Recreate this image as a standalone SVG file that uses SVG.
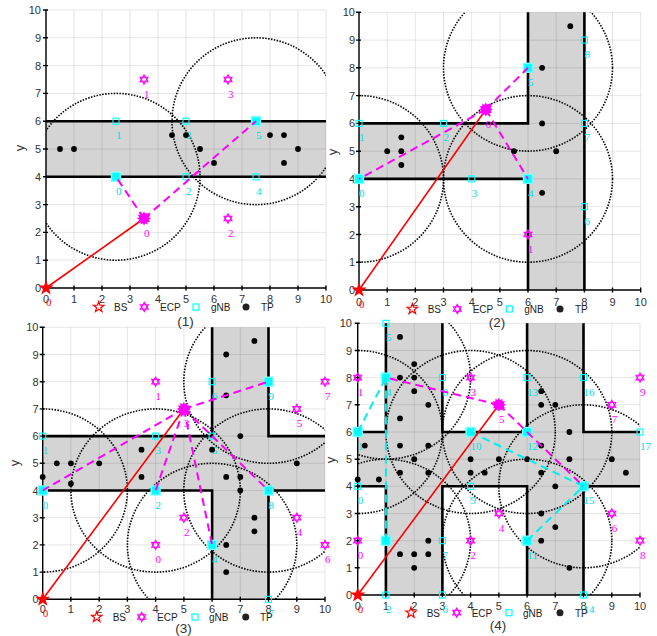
<svg xmlns="http://www.w3.org/2000/svg" width="657" height="636" viewBox="0 0 657 636">
<defs>
<style>
.grid{fill:none;stroke:#000;stroke-opacity:.1;stroke-width:1}
.ax{fill:none;stroke:#000;stroke-width:1.4}
.wall{fill:none;stroke:#000;stroke-width:2.6;stroke-linejoin:miter}
.fl{fill:#d4d4d4}
.cov{fill:none;stroke:#000;stroke-width:1.6;stroke-dasharray:1.5 1.4}
.red{stroke:#f00;stroke-width:1.6;fill:none}
.mag{stroke:#f0f;stroke-width:2;stroke-dasharray:8 5;fill:none}
.cy{stroke:#0ee;stroke-width:2;stroke-dasharray:8 5;fill:none}
.tk{font-family:"Liberation Sans",Arial,sans-serif;font-size:11px;fill:#333}
.tx{text-anchor:middle}
.ty{text-anchor:end}
.lg{font-family:"Liberation Sans",Arial,sans-serif;font-size:10px;fill:#222}
.lc,.lm,.lr{font-family:"Liberation Serif","Times New Roman",serif;font-size:11px}
.lc{fill:#00e0e0}.lm{fill:#f0f}.lr{fill:#f00}
.ttl{font-family:"Liberation Sans",Arial,sans-serif;font-size:13.5px;fill:#333;text-anchor:middle}
.yl{font-family:"Liberation Sans",Arial,sans-serif;font-size:13px;fill:#333;text-anchor:middle}
.tp{fill:#000}
</style>
<circle id="tp" r="2.9" class="tp"/>
<rect id="gs" x="-3" y="-3" width="6" height="6" fill="none" stroke="#0ff" stroke-width="1.1"/>
<rect id="gl" x="-4.5" y="-4.5" width="9" height="9" fill="#0ff" stroke="#7ff" stroke-width="1.4"/>
<g id="eh" fill="none" stroke="#f0f" stroke-width="1.1"><polygon points="0,-4.6 4,2.3 -4,2.3"/><polygon points="0,4.6 4,-2.3 -4,-2.3"/></g>
<polygon id="hs" points="0,-7 2,-3.46 6.06,-3.5 4,0 6.06,3.5 2,3.46 0,7 -2,3.46 -6.06,3.5 -4,0 -6.06,-3.5 -2,-3.46" fill="#f0f"/>
<g id="ef"><use href="#hs"/><use href="#hs" transform="rotate(30)"/></g>
<polygon id="bs" points="0,-8 1.88,-2.59 7.61,-2.47 3.04,0.99 4.7,6.47 0,3.2 -4.7,6.47 -3.04,0.99 -7.61,-2.47 -1.88,-2.59" fill="#f00"/>
<polygon id="bsl" points="0,-5.5 1.29,-1.78 5.23,-1.7 2.09,0.68 3.23,4.45 0,2.2 -3.23,4.45 -2.09,0.68 -5.23,-1.7 -1.29,-1.78" fill="none" stroke="#f00" stroke-width="1.2"/>
<rect id="gsl" x="-3" y="-3" width="6" height="6" fill="none" stroke="#0ff" stroke-width="1.2"/>
<clipPath id="cp1"><rect x="46" y="10" width="280" height="278"/></clipPath>
<clipPath id="cp2"><rect x="359" y="12.3" width="281.7" height="277.7"/></clipPath>
<clipPath id="cp3"><rect x="42.7" y="327.3" width="282.3" height="272"/></clipPath>
<clipPath id="cp4"><rect x="357.7" y="323.3" width="282.3" height="271.7"/></clipPath>
</defs>
<rect width="657" height="636" fill="#fff"/>

<!-- ================= Plot 1 ================= -->
<g id="plot1">
<rect class="fl" x="46" y="121.2" width="280" height="55.6"/>
<path class="grid" d="M46 10V288M74 10V288M102 10V288M130 10V288M158 10V288M186 10V288M214 10V288M242 10V288M270 10V288M298 10V288M326 10V288M46 260.2H326M46 232.4H326M46 204.6H326M46 176.8H326M46 149H326M46 121.2H326M46 93.4H326M46 65.6H326M46 37.8H326M46 10H326"/>
<path class="ax" d="M46 10V288H326M46 288V285M74 290.5V285.5M102 290.5V285.5M130 290.5V285.5M158 290.5V285.5M186 290.5V285.5M214 290.5V285.5M242 290.5V285.5M270 290.5V285.5M298 290.5V285.5M326 290.5V285.5M43 260.2H48M43 232.4H48M43 204.6H48M43 176.8H48M43 149H48M43 121.2H48M43 93.4H48M43 65.6H48M43 37.8H48M43 10H48"/>
<g class="tk tx"><text x="46" y="303">0</text><text x="74" y="303">1</text><text x="102" y="303">2</text><text x="130" y="303">3</text><text x="158" y="303">4</text><text x="186" y="303">5</text><text x="214" y="303">6</text><text x="242" y="303">7</text><text x="270" y="303">8</text><text x="298" y="303">9</text><text x="326" y="303">10</text></g>
<g class="tk ty"><text x="41" y="292">0</text><text x="41" y="264.2">1</text><text x="41" y="236.4">2</text><text x="41" y="208.6">3</text><text x="41" y="180.8">4</text><text x="41" y="153">5</text><text x="41" y="125.2">6</text><text x="41" y="97.4">7</text><text x="41" y="69.6">8</text><text x="41" y="41.8">9</text><text x="41" y="14">10</text></g>
<text class="yl" transform="translate(20,148) rotate(-90)" y="4">y</text>
<g id="p1-walls" class="wall"><path d="M46 121.2H326M46 176.8H326"/></g>
<g id="p1-coverage" class="cov" clip-path="url(#cp1)"><ellipse cx="116" cy="176.8" rx="84" ry="83.4"/><ellipse cx="256" cy="121.2" rx="84" ry="83.4"/></g>
<g id="p1-tps"><use href="#tp" x="60" y="149"/><use href="#tp" x="74" y="149"/><use href="#tp" x="172" y="135.1"/><use href="#tp" x="200" y="149"/><use href="#tp" x="214" y="162.9"/><use href="#tp" x="270" y="135.1"/><use href="#tp" x="284" y="135.1"/><use href="#tp" x="298" y="149"/><use href="#tp" x="284" y="162.9"/></g>
<g id="p1-gnb0"><use href="#gl" x="116" y="176.8"/><text class="lc" x="116" y="194.8">0</text></g>
<g id="p1-gnb1"><use href="#gs" x="116" y="121.2"/><text class="lc" x="116" y="139.2">1</text></g>
<g id="p1-gnb2"><use href="#gs" x="186" y="176.8"/><text class="lc" x="186" y="194.8">2</text></g>
<g id="p1-gnb3"><use href="#gs" x="186" y="121.2"/><text class="lc" x="186" y="139.2">3</text></g>
<g id="p1-gnb4"><use href="#gs" x="256" y="176.8"/><text class="lc" x="256" y="194.8">4</text></g>
<g id="p1-gnb5"><use href="#gl" x="256" y="121.2"/><text class="lc" x="256" y="139.2">5</text></g>
<use href="#tp" x="186" y="135.1"/>
<g id="p1-ecp1"><use href="#eh" x="144" y="79.5"/><text class="lm" x="144" y="97.5">1</text></g>
<g id="p1-ecp2"><use href="#eh" x="228" y="218.5"/><text class="lm" x="228" y="236.5">2</text></g>
<g id="p1-ecp3"><use href="#eh" x="228" y="79.5"/><text class="lm" x="228" y="97.5">3</text></g>
<g id="p1-links"><line class="red" x1="46" y1="288" x2="144" y2="218.5"/><line class="mag" x1="144" y1="218.5" x2="116" y2="176.8"/><line class="mag" x1="144" y1="218.5" x2="256" y2="121.2"/></g>
<g id="p1-ecp0"><use href="#ef" x="144" y="218.5"/><text class="lm" x="144" y="236.5">0</text></g>
<g id="p1-bs0"><use href="#bs" x="46" y="288"/><text class="lr" x="46" y="306">0</text></g>
<g id="p1-legend" class="lg"><use href="#bsl" x="98.7" y="307"/><text x="114" y="311">BS</text><use href="#eh" x="144.3" y="307"/><text x="160" y="311">ECP</text><use href="#gsl" x="196" y="307"/><text x="211" y="311">gNB</text><circle cx="246" cy="307" r="3.5"/><text x="261" y="311">TP</text></g>
<text class="ttl" x="185.5" y="326">(1)</text>
</g>

<!-- ================= Plot 2 ================= -->
<g id="plot2">
<path class="fl" d="M359 123.4H528V12.3H584.4V290H528V178.9H359Z"/>
<path class="grid" d="M359 12.3V290M387.2 12.3V290M415.3 12.3V290M443.5 12.3V290M471.7 12.3V290M499.9 12.3V290M528 12.3V290M556.2 12.3V290M584.4 12.3V290M612.5 12.3V290M640.7 12.3V290M359 262.2H640.7M359 234.5H640.7M359 206.7H640.7M359 178.9H640.7M359 151.2H640.7M359 123.4H640.7M359 95.6H640.7M359 67.8H640.7M359 40.1H640.7M359 12.3H640.7"/>
<path class="ax" d="M359 12.3V290H640.7M387.2 292.5V287.5M415.3 292.5V287.5M443.5 292.5V287.5M471.7 292.5V287.5M499.9 292.5V287.5M528 292.5V287.5M556.2 292.5V287.5M584.4 292.5V287.5M612.5 292.5V287.5M640.7 292.5V287.5M356 262.2H361M356 234.5H361M356 206.7H361M356 178.9H361M356 151.2H361M356 123.4H361M356 95.6H361M356 67.8H361M356 40.1H361M356 12.3H361"/>
<g class="tk tx"><text x="359" y="305.5">0</text><text x="387.2" y="305.5">1</text><text x="415.3" y="305.5">2</text><text x="443.5" y="305.5">3</text><text x="471.7" y="305.5">4</text><text x="499.9" y="305.5">5</text><text x="528" y="305.5">6</text><text x="556.2" y="305.5">7</text><text x="584.4" y="305.5">8</text><text x="612.5" y="305.5">9</text><text x="640.7" y="305.5">10</text></g>
<g class="tk ty"><text x="355" y="294">0</text><text x="355" y="266.2">1</text><text x="355" y="238.5">2</text><text x="355" y="210.7">3</text><text x="355" y="182.9">4</text><text x="355" y="155.2">5</text><text x="355" y="127.4">6</text><text x="355" y="99.6">7</text><text x="355" y="71.8">8</text><text x="355" y="44.1">9</text><text x="355" y="16.3">10</text></g>
<text class="yl" transform="translate(333,152) rotate(-90)" y="4">y</text>
<g id="p2-walls" class="wall"><path d="M359 123.4H528V12.3M359 178.9H528V290M584.4 12.3V290"/></g>
<g id="p2-coverage" class="cov" clip-path="url(#cp2)"><ellipse cx="359" cy="178.9" rx="84.5" ry="83.3"/><ellipse cx="528" cy="67.8" rx="84.5" ry="83.3"/><ellipse cx="528" cy="178.9" rx="84.5" ry="83.3"/></g>
<g id="p2-tps"><use href="#tp" x="570.3" y="26.2"/><use href="#tp" x="542.1" y="67.8"/><use href="#tp" x="542.1" y="123.4"/><use href="#tp" x="401.3" y="137.3"/><use href="#tp" x="387.2" y="151.2"/><use href="#tp" x="401.3" y="151.2"/><use href="#tp" x="514" y="151.2"/><use href="#tp" x="556.2" y="151.2"/><use href="#tp" x="401.3" y="165"/><use href="#tp" x="542.1" y="192.8"/></g>
<g id="p2-gnb0"><use href="#gl" x="359" y="178.9"/><text class="lc" x="359" y="196.9">0</text></g>
<g id="p2-gnb1"><use href="#gs" x="359" y="123.4"/><text class="lc" x="359" y="141.4">1</text></g>
<g id="p2-gnb2"><use href="#gs" x="443.5" y="123.4"/><text class="lc" x="443.5" y="141.4">2</text></g>
<g id="p2-gnb3"><use href="#gs" x="471.7" y="178.9"/><text class="lc" x="471.7" y="196.9">3</text></g>
<g id="p2-gnb4"><use href="#gl" x="528" y="178.9"/><text class="lc" x="528" y="196.9">4</text></g>
<g id="p2-gnb5"><use href="#gl" x="528" y="67.8"/><text class="lc" x="528" y="85.8">5</text></g>
<g id="p2-gnb6"><use href="#gs" x="584.4" y="206.7"/><text class="lc" x="584.4" y="224.7">6</text></g>
<g id="p2-gnb7"><use href="#gs" x="584.4" y="123.4"/><text class="lc" x="584.4" y="141.4">7</text></g>
<g id="p2-gnb8"><use href="#gs" x="584.4" y="40.1"/><text class="lc" x="584.4" y="58.1">8</text></g>
<g id="p2-ecp1"><use href="#eh" x="528" y="234.5"/><text class="lm" x="528" y="252.5">1</text></g>
<g id="p2-links"><line class="red" x1="359" y1="290" x2="485.8" y2="109.5"/><line class="mag" x1="485.8" y1="109.5" x2="359" y2="178.9"/><line class="mag" x1="485.8" y1="109.5" x2="528" y2="67.8"/><line class="mag" x1="485.8" y1="109.5" x2="528" y2="178.9"/></g>
<g id="p2-ecp0"><use href="#ef" x="485.8" y="109.5"/><text class="lm" x="485.8" y="127.5">0</text></g>
<g id="p2-bs0"><use href="#bs" x="359" y="290"/><text class="lr" x="359" y="308">0</text></g>
<g id="p2-legend" class="lg"><use href="#bsl" x="412.3" y="309"/><text x="427.7" y="313">BS</text><use href="#eh" x="457.3" y="309"/><text x="472.7" y="313">ECP</text><use href="#gsl" x="509.3" y="309"/><text x="524.3" y="313">gNB</text><circle cx="560" cy="309" r="3.5"/><text x="575" y="313">TP</text></g>
<text class="ttl" x="497" y="327">(2)</text>
</g>

<!-- ================= Plot 3 ================= -->
<g id="plot3">
<path class="fl" d="M42.7 436.1H212.1V327.3H268.5V436.1H325V490.5H268.5V599.3H212.1V490.5H42.7Z"/>
<path class="grid" d="M42.7 327.3V599.3M70.9 327.3V599.3M99.2 327.3V599.3M127.4 327.3V599.3M155.6 327.3V599.3M183.9 327.3V599.3M212.1 327.3V599.3M240.3 327.3V599.3M268.5 327.3V599.3M296.8 327.3V599.3M325 327.3V599.3M42.7 572.1H325M42.7 544.9H325M42.7 517.7H325M42.7 490.5H325M42.7 463.3H325M42.7 436.1H325M42.7 408.9H325M42.7 381.7H325M42.7 354.5H325M42.7 327.3H325"/>
<path class="ax" d="M42.7 327.3V599.3H325M70.9 601.8V596.8M99.2 601.8V596.8M127.4 601.8V596.8M155.6 601.8V596.8M183.9 601.8V596.8M212.1 601.8V596.8M240.3 601.8V596.8M268.5 601.8V596.8M296.8 601.8V596.8M325 601.8V596.8M39.7 572.1H44.7M39.7 544.9H44.7M39.7 517.7H44.7M39.7 490.5H44.7M39.7 463.3H44.7M39.7 436.1H44.7M39.7 408.9H44.7M39.7 381.7H44.7M39.7 354.5H44.7M39.7 327.3H44.7"/>
<g class="tk tx"><text x="42.7" y="613.3">0</text><text x="70.9" y="613.3">1</text><text x="99.2" y="613.3">2</text><text x="127.4" y="613.3">3</text><text x="155.6" y="613.3">4</text><text x="183.9" y="613.3">5</text><text x="212.1" y="613.3">6</text><text x="240.3" y="613.3">7</text><text x="268.5" y="613.3">8</text><text x="296.8" y="613.3">9</text><text x="325" y="613.3">10</text></g>
<g class="tk ty"><text x="38.5" y="603.3">0</text><text x="38.5" y="576.1">1</text><text x="38.5" y="548.9">2</text><text x="38.5" y="521.7">3</text><text x="38.5" y="494.5">4</text><text x="38.5" y="467.3">5</text><text x="38.5" y="440.1">6</text><text x="38.5" y="412.9">7</text><text x="38.5" y="385.7">8</text><text x="38.5" y="358.5">9</text><text x="38.5" y="331.3">10</text></g>
<text class="yl" transform="translate(15,463) rotate(-90)" y="4">y</text>
<g id="p3-walls" class="wall"><path d="M42.7 436.1H212.1V327.3M268.5 327.3V436.1H325M42.7 490.5H212.1V599.3M268.5 599.3V490.5H325"/></g>
<g id="p3-coverage" class="cov" clip-path="url(#cp3)"><ellipse cx="42.7" cy="490.5" rx="84.7" ry="81.6"/><ellipse cx="155.6" cy="490.5" rx="84.7" ry="81.6"/><ellipse cx="212.1" cy="544.9" rx="84.7" ry="81.6"/><ellipse cx="268.5" cy="490.5" rx="84.7" ry="81.6"/><ellipse cx="268.5" cy="381.7" rx="84.7" ry="81.6"/></g>
<g id="p3-gnb0"><use href="#gl" x="42.7" y="490.5"/><text class="lc" x="42.7" y="508.5">0</text></g>
<g id="p3-gnb1"><use href="#gs" x="42.7" y="436.1"/><text class="lc" x="42.7" y="454.1">1</text></g>
<g id="p3-gnb2"><use href="#gl" x="155.6" y="490.5"/><text class="lc" x="155.6" y="508.5">2</text></g>
<g id="p3-gnb3"><use href="#gs" x="155.6" y="436.1"/><text class="lc" x="155.6" y="454.1">3</text></g>
<g id="p3-gnb4"><use href="#gl" x="212.1" y="544.9"/><text class="lc" x="212.1" y="562.9">4</text></g>
<g id="p3-gnb5"><use href="#gs" x="212.1" y="436.1"/><text class="lc" x="212.1" y="454.1">5</text></g>
<g id="p3-gnb6"><use href="#gs" x="212.1" y="381.7"/><text class="lc" x="212.1" y="399.7">6</text></g>
<g id="p3-gnb7"><use href="#gs" x="268.5" y="599.3"/><text class="lc" x="268.5" y="617.3">7</text></g>
<g id="p3-gnb8"><use href="#gl" x="268.5" y="490.5"/><text class="lc" x="268.5" y="508.5">8</text></g>
<g id="p3-gnb9"><use href="#gl" x="268.5" y="381.7"/><text class="lc" x="268.5" y="399.7">9</text></g>
<g id="p3-tps"><use href="#tp" x="254.4" y="340.9"/><use href="#tp" x="226.2" y="354.5"/><use href="#tp" x="226.2" y="395.3"/><use href="#tp" x="240.3" y="436.1"/><use href="#tp" x="212.1" y="449.7"/><use href="#tp" x="296.8" y="463.3"/><use href="#tp" x="56.8" y="463.3"/><use href="#tp" x="70.9" y="463.3"/><use href="#tp" x="99.2" y="463.3"/><use href="#tp" x="141.5" y="449.7"/><use href="#tp" x="141.5" y="476.9"/><use href="#tp" x="226.2" y="476.9"/><use href="#tp" x="240.3" y="476.9"/><use href="#tp" x="42.7" y="476.9"/><use href="#tp" x="70.9" y="483.7"/><use href="#tp" x="240.3" y="490.5"/><use href="#tp" x="254.4" y="517.7"/><use href="#tp" x="254.4" y="531.3"/><use href="#tp" x="226.2" y="544.9"/><use href="#tp" x="226.2" y="572.1"/></g>
<g id="p3-ecp0"><use href="#eh" x="155.6" y="544.9"/><text class="lm" x="155.6" y="562.9">0</text></g>
<g id="p3-ecp1"><use href="#eh" x="155.6" y="381.7"/><text class="lm" x="155.6" y="399.7">1</text></g>
<g id="p3-ecp2"><use href="#eh" x="183.9" y="517.7"/><text class="lm" x="183.9" y="535.7">2</text></g>
<g id="p3-ecp4"><use href="#eh" x="296.8" y="517.7"/><text class="lm" x="296.8" y="535.7">4</text></g>
<g id="p3-ecp5"><use href="#eh" x="296.8" y="408.9"/><text class="lm" x="296.8" y="426.9">5</text></g>
<g id="p3-ecp6"><use href="#eh" x="325" y="544.9"/><text class="lm" x="325" y="562.9">6</text></g>
<g id="p3-ecp7"><use href="#eh" x="325" y="381.7"/><text class="lm" x="325" y="399.7">7</text></g>
<g id="p3-links"><line class="red" x1="42.7" y1="599.3" x2="183.9" y2="408.9"/><line class="mag" x1="183.9" y1="408.9" x2="42.7" y2="490.5"/><line class="mag" x1="183.9" y1="408.9" x2="155.6" y2="490.5"/><line class="mag" x1="183.9" y1="408.9" x2="212.1" y2="544.9"/><line class="mag" x1="183.9" y1="408.9" x2="268.5" y2="490.5"/><line class="mag" x1="183.9" y1="408.9" x2="268.5" y2="381.7"/></g>
<g id="p3-ecp3"><use href="#ef" x="183.9" y="408.9"/><text class="lm" x="183.9" y="426.9">3</text></g>
<g id="p3-bs0"><use href="#bs" x="42.7" y="599.3"/><text class="lr" x="42.7" y="617.3">0</text></g>
<g id="p3-legend" class="lg"><use href="#bsl" x="96.7" y="617"/><text x="112.7" y="621">BS</text><use href="#eh" x="141.7" y="617"/><text x="157" y="621">ECP</text><use href="#gsl" x="195" y="617"/><text x="209" y="621">gNB</text><circle cx="245.7" cy="617" r="3.5"/><text x="260" y="621">TP</text></g>
<text class="ttl" x="183.5" y="633">(3)</text>
</g>

<!-- ================= Plot 4 ================= -->
<g id="plot4">
<path class="fl" d="M385.9 323.3H442.4V595H385.9ZM527.1 323.3H583.5V595H527.1ZM357.7 432H640V486.3H357.7Z"/>
<path class="grid" d="M357.7 323.3V595M385.9 323.3V595M414.2 323.3V595M442.4 323.3V595M470.6 323.3V595M498.9 323.3V595M527.1 323.3V595M555.3 323.3V595M583.5 323.3V595M611.8 323.3V595M640 323.3V595M357.7 567.8H640M357.7 540.7H640M357.7 513.5H640M357.7 486.3H640M357.7 459.2H640M357.7 432H640M357.7 404.8H640M357.7 377.6H640M357.7 350.5H640M357.7 323.3H640"/>
<path class="ax" d="M357.7 323.3V595H640M385.9 597.5V592.5M414.2 597.5V592.5M442.4 597.5V592.5M470.6 597.5V592.5M498.9 597.5V592.5M527.1 597.5V592.5M555.3 597.5V592.5M583.5 597.5V592.5M611.8 597.5V592.5M640 597.5V592.5M354.7 567.8H359.7M354.7 540.7H359.7M354.7 513.5H359.7M354.7 486.3H359.7M354.7 459.2H359.7M354.7 432H359.7M354.7 404.8H359.7M354.7 377.6H359.7M354.7 350.5H359.7M354.7 323.3H359.7"/>
<g class="tk tx"><text x="357.7" y="610.3">0</text><text x="385.9" y="610.3">1</text><text x="414.2" y="610.3">2</text><text x="442.4" y="610.3">3</text><text x="470.6" y="610.3">4</text><text x="498.9" y="610.3">5</text><text x="527.1" y="610.3">6</text><text x="555.3" y="610.3">7</text><text x="583.5" y="610.3">8</text><text x="611.8" y="610.3">9</text><text x="640" y="610.3">10</text></g>
<g class="tk ty"><text x="352" y="599">0</text><text x="352" y="571.8">1</text><text x="352" y="544.7">2</text><text x="352" y="517.5">3</text><text x="352" y="490.3">4</text><text x="352" y="463.2">5</text><text x="352" y="436">6</text><text x="352" y="408.8">7</text><text x="352" y="381.6">8</text><text x="352" y="354.5">9</text><text x="352" y="327.3">10</text></g>
<text class="yl" transform="translate(331,460) rotate(-90)" y="4">y</text>
<g id="p4-walls" class="wall"><path d="M357.7 432H385.9V323.3M442.4 323.3V432H527.1V323.3M583.5 323.3V432H640M357.7 486.3H385.9V595M442.4 595V486.3H527.1V595M583.5 595V486.3H640"/></g>
<g id="p4-coverage" class="cov" clip-path="url(#cp4)"><ellipse cx="357.7" cy="432" rx="84.7" ry="81.5"/><ellipse cx="385.9" cy="377.6" rx="84.7" ry="81.5"/><ellipse cx="385.9" cy="540.7" rx="84.7" ry="81.5"/><ellipse cx="470.6" cy="432" rx="84.7" ry="81.5"/><ellipse cx="527.1" cy="432" rx="84.7" ry="81.5"/><ellipse cx="527.1" cy="540.7" rx="84.7" ry="81.5"/><ellipse cx="583.5" cy="486.3" rx="84.7" ry="81.5"/></g>
<g id="p4-gnb0"><use href="#gs" x="357.7" y="486.3"/><text class="lc" x="357.7" y="504.3">0</text></g>
<g id="p4-gnb1"><use href="#gl" x="357.7" y="432"/><text class="lc" x="357.7" y="450">1</text></g>
<g id="p4-gnb2"><use href="#gs" x="385.9" y="595"/><text class="lc" x="385.9" y="613">2</text></g>
<g id="p4-gnb3"><use href="#gl" x="385.9" y="540.7"/></g>
<g id="p4-gnb4"><use href="#gl" x="385.9" y="377.6"/><text class="lc" x="385.9" y="395.6">4</text></g>
<g id="p4-gnb5"><use href="#gs" x="385.9" y="323.3"/><text class="lc" x="385.9" y="341.3">5</text></g>
<g id="p4-gnb6"><use href="#gs" x="442.4" y="595"/><text class="lc" x="442.4" y="613">6</text></g>
<g id="p4-gnb7"><use href="#gs" x="442.4" y="540.7"/><text class="lc" x="442.4" y="558.7">7</text></g>
<g id="p4-gnb8"><use href="#gs" x="442.4" y="377.6"/><text class="lc" x="442.4" y="395.6">8</text></g>
<g id="p4-gnb9"><use href="#gs" x="470.6" y="486.3"/><text class="lc" x="470.6" y="504.3">9</text></g>
<g id="p4-gnb10"><use href="#gl" x="470.6" y="432"/><text class="lc" x="470.6" y="450">10</text></g>
<g id="p4-gnb11"><use href="#gl" x="527.1" y="540.7"/><text class="lc" x="527.1" y="558.7">11</text></g>
<g id="p4-gnb12"><use href="#gl" x="527.1" y="432"/><text class="lc" x="527.1" y="450">12</text></g>
<g id="p4-gnb13"><use href="#gs" x="527.1" y="377.6"/><text class="lc" x="527.1" y="395.6">13</text></g>
<g id="p4-gnb14"><use href="#gs" x="583.5" y="595"/><text class="lc" x="583.5" y="613">14</text></g>
<g id="p4-gnb15"><use href="#gl" x="583.5" y="486.3"/><text class="lc" x="583.5" y="504.3">15</text></g>
<g id="p4-gnb16"><use href="#gs" x="583.5" y="377.6"/><text class="lc" x="583.5" y="395.6">16</text></g>
<g id="p4-gnb17"><use href="#gs" x="640" y="432"/><text class="lc" x="640" y="450">17</text></g>
<g id="p4-tps"><use href="#tp" x="400" y="336.9"/><use href="#tp" x="414.2" y="364.1"/><use href="#tp" x="400" y="377.6"/><use href="#tp" x="414.2" y="377.6"/><use href="#tp" x="414.2" y="391.2"/><use href="#tp" x="428.3" y="404.8"/><use href="#tp" x="400" y="418.4"/><use href="#tp" x="364.8" y="445.6"/><use href="#tp" x="400" y="445.6"/><use href="#tp" x="428.3" y="445.6"/><use href="#tp" x="414.2" y="459.2"/><use href="#tp" x="470.6" y="459.2"/><use href="#tp" x="498.9" y="459.2"/><use href="#tp" x="527.1" y="459.2"/><use href="#tp" x="541.2" y="445.6"/><use href="#tp" x="541.2" y="391.2"/><use href="#tp" x="541.2" y="404.8"/><use href="#tp" x="555.3" y="404.8"/><use href="#tp" x="569.4" y="432"/><use href="#tp" x="569.4" y="459.2"/><use href="#tp" x="611.8" y="459.2"/><use href="#tp" x="625.9" y="472.7"/><use href="#tp" x="400" y="472.7"/><use href="#tp" x="428.3" y="472.7"/><use href="#tp" x="470.6" y="472.7"/><use href="#tp" x="484.7" y="472.7"/><use href="#tp" x="541.2" y="472.7"/><use href="#tp" x="357.7" y="479.5"/><use href="#tp" x="378.9" y="479.5"/><use href="#tp" x="428.3" y="540.7"/><use href="#tp" x="400" y="554.2"/><use href="#tp" x="414.2" y="554.2"/><use href="#tp" x="428.3" y="554.2"/><use href="#tp" x="414.2" y="567.8"/><use href="#tp" x="555.3" y="486.3"/><use href="#tp" x="541.2" y="513.5"/><use href="#tp" x="555.3" y="527.1"/><use href="#tp" x="541.2" y="540.7"/><use href="#tp" x="569.4" y="567.8"/></g>
<g id="p4-ecp0"><use href="#eh" x="357.7" y="540.7"/><text class="lm" x="357.7" y="558.7">0</text></g>
<g id="p4-ecp1"><use href="#eh" x="357.7" y="377.6"/><text class="lm" x="357.7" y="395.6">1</text></g>
<g id="p4-ecp2"><use href="#eh" x="470.6" y="540.7"/><text class="lm" x="470.6" y="558.7">2</text></g>
<g id="p4-ecp3"><use href="#eh" x="470.6" y="377.6"/><text class="lm" x="470.6" y="395.6">3</text></g>
<g id="p4-ecp4"><use href="#eh" x="498.9" y="513.5"/><text class="lm" x="498.9" y="531.5">4</text></g>
<g id="p4-ecp6"><use href="#eh" x="611.8" y="513.5"/><text class="lm" x="611.8" y="531.5">6</text></g>
<g id="p4-ecp7"><use href="#eh" x="611.8" y="404.8"/><text class="lm" x="611.8" y="422.8">7</text></g>
<g id="p4-ecp8"><use href="#eh" x="640" y="540.7"/><text class="lm" x="640" y="558.7">8</text></g>
<g id="p4-ecp9"><use href="#eh" x="640" y="377.6"/><text class="lm" x="640" y="395.6">9</text></g>
<g id="p4-links"><line class="cy" x1="357.7" y1="432" x2="385.9" y2="377.6"/><line class="cy" x1="385.9" y1="377.6" x2="385.9" y2="540.7"/><line class="cy" x1="470.6" y1="432" x2="583.5" y2="486.3"/><line class="cy" x1="527.1" y1="540.7" x2="583.5" y2="486.3"/><line class="red" x1="357.7" y1="595" x2="498.9" y2="404.8"/><line class="mag" x1="498.9" y1="404.8" x2="385.9" y2="377.6"/><line class="mag" x1="498.9" y1="404.8" x2="583.5" y2="486.3"/></g>
<g id="p4-ecp5"><use href="#ef" x="498.9" y="404.8"/><text class="lm" x="498.9" y="422.8">5</text></g>
<g id="p4-bs0"><use href="#bs" x="357.7" y="595"/><text class="lr" x="357.7" y="613">0</text></g>
<g id="p4-legend" class="lg"><use href="#bsl" x="411" y="612.7"/><text x="426.7" y="616.7">BS</text><use href="#eh" x="456.7" y="612.7"/><text x="471.7" y="616.7">ECP</text><use href="#gsl" x="509" y="612.7"/><text x="523" y="616.7">gNB</text><circle cx="560" cy="612.7" r="3.5"/><text x="575" y="616.7">TP</text></g>
<text class="ttl" x="498" y="630">(4)</text>
</g>
</svg>
